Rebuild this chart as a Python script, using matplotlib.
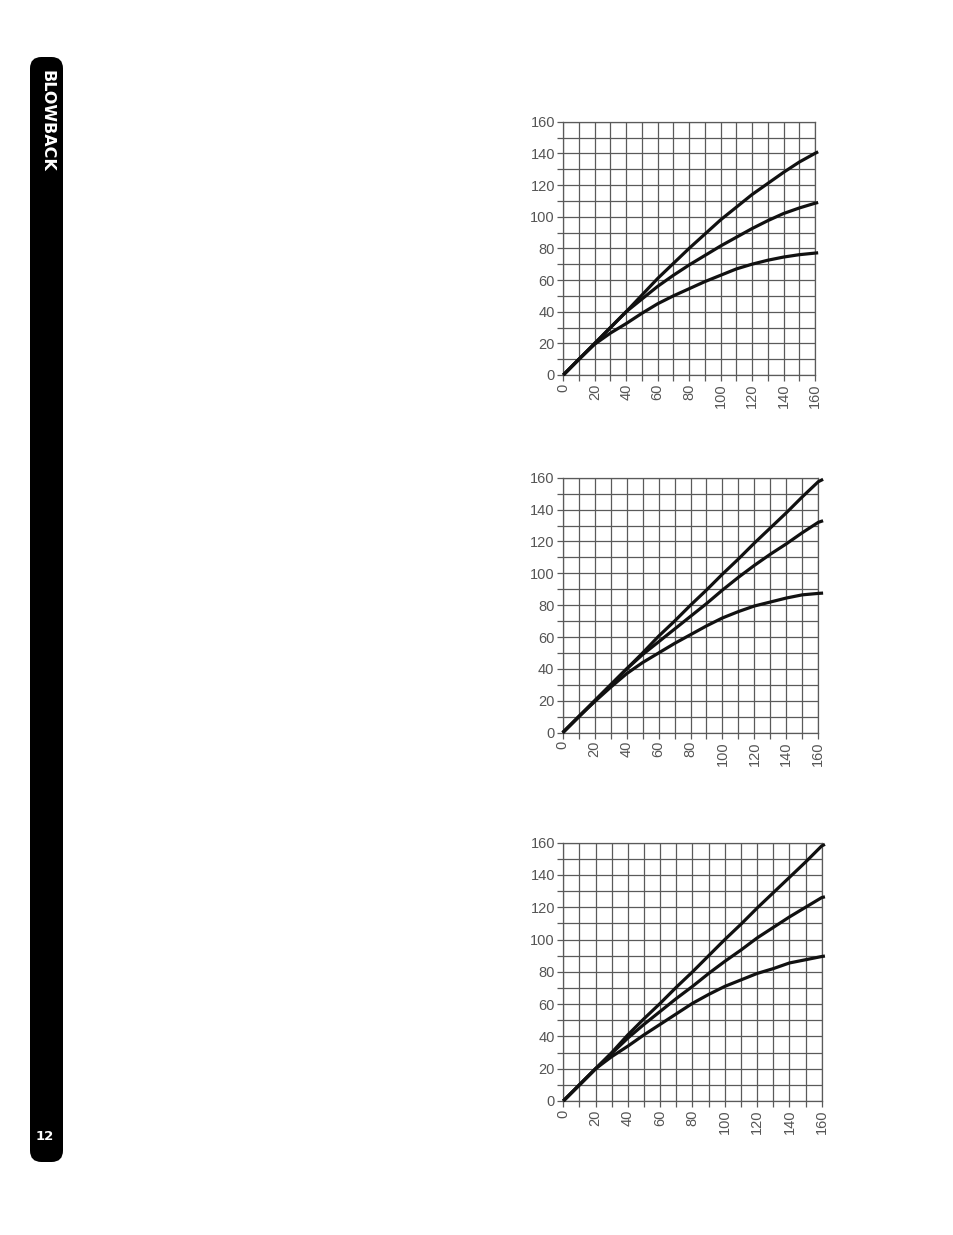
"""Three stacked response charts with a black page-edge tab, matching a scanned manual page."""

import matplotlib
matplotlib.use("Agg")
import matplotlib.pyplot as plt
import matplotlib.ticker as ticker
from matplotlib.patches import FancyBboxPatch

# ---------------------------------------------------------------------------
# Data
# ---------------------------------------------------------------------------

X_TOP = [0, 10, 20, 30, 40, 50, 60, 70, 80, 90, 100, 110, 120, 130, 140, 150, 160, 162]
TOP_UPPER = [0, 10, 20, 30, 40, 50.5, 61, 70.5, 80, 89, 98, 106, 114, 121, 128, 134.5, 140, 141]
TOP_MIDDLE = [0, 10, 20, 30, 40, 48, 56, 63, 69.5, 75.5, 81.5, 87, 92.5, 97.5, 102, 105.5, 108.5, 109]
TOP_LOWER = [0, 10, 19.5, 26.5, 32.5, 39, 45, 50, 54.5, 59, 63, 67, 70, 72.5, 74.5, 76, 77, 77.2]

X_MID = [0, 10, 20, 30, 40, 50, 60, 70, 80, 90, 100, 110, 120, 130, 140, 150, 160, 163]
MID_UPPER = [0, 10, 20, 30, 40, 50, 60.5, 70, 80, 89.5, 99.5, 109, 119, 128.5, 138, 148, 157.5, 159]
MID_MIDDLE = [0, 10, 20, 30, 40, 49, 57, 65, 73, 81, 89.5, 97.5, 105, 112, 118.5, 125.5, 132, 133]
MID_LOWER = [0, 10, 19.5, 28.5, 37, 44, 50, 56, 61.5, 67, 72, 76, 79.5, 82, 84.5, 86.5, 87.4, 87.6]

X_BOT = [0, 10, 20, 30, 40, 50, 60, 70, 80, 90, 100, 110, 120, 130, 140, 150, 160, 162]
BOT_UPPER = [0, 10, 20, 30, 41, 51, 60.5, 70.5, 80, 90, 100, 109.5, 119.5, 129, 138.5, 148, 158, 159]
BOT_MIDDLE = [0, 10, 20, 29.5, 39, 47.5, 55.5, 63.5, 71, 79, 86.5, 93.5, 101, 107.5, 114, 120, 126, 126.5]
BOT_LOWER = [0, 10, 20, 27.5, 34, 41, 47.5, 54, 60.5, 66, 71, 75, 79, 82, 85.5, 87.5, 89.5, 89.8]

TICKS = [0, 20, 40, 60, 80, 100, 120, 140, 160]
TAB_TITLE = "BLOWBACK"
PAGE_NUMBER = "12"

GRID = "#5a5a5a"
LABEL = "#555555"

# ---------------------------------------------------------------------------
# Figure
# ---------------------------------------------------------------------------

fig = plt.figure(figsize=(9.54, 12.35), dpi=100)
fig.patch.set_facecolor("white")

# black tab on the left edge (pixel coords converted to figure fractions)
W, H = 954, 1235
tab = FancyBboxPatch(
    (30 / W, (H - 1162) / H), 33 / W, (1162 - 57) / H,
    boxstyle="round,pad=0,rounding_size=0.012",
    transform=fig.transFigure, facecolor="black", edgecolor="none",
    mutation_aspect=W / H,
)
fig.patches.append(tab)
fig.text(47 / W, 1 - 70 / H, TAB_TITLE, rotation=270, ha="center", va="top",
         color="white", fontsize=11.5, fontweight="bold", family="DejaVu Sans")
fig.text(45 / W, 1 - 1137 / H, PAGE_NUMBER, ha="center", va="center",
         color="white", fontsize=9.5, fontweight="bold", family="DejaVu Sans")

panels = [
    ([563.3 / W, 1 - 375 / H, 251.7 / W, 253.3 / H], X_TOP, [TOP_UPPER, TOP_MIDDLE, TOP_LOWER]),
    ([562.7 / W, 1 - 732.7 / H, 255.6 / W, 255 / H], X_MID, [MID_UPPER, MID_MIDDLE, MID_LOWER]),
    ([563.3 / W, 1 - 1101 / H, 258.4 / W, 258.3 / H], X_BOT, [BOT_UPPER, BOT_MIDDLE, BOT_LOWER]),
]

for rect, xs, curves in panels:
    ax = fig.add_axes(rect)
    ax.set_facecolor("white")
    ax.set_xlim(0, 160)
    ax.set_ylim(0, 160)

    for ys in curves:
        ax.plot(xs, ys, color="#111111", linewidth=2.3, solid_capstyle="butt",
                solid_joinstyle="round", clip_on=False, zorder=4)

    ax.xaxis.set_major_locator(ticker.FixedLocator(TICKS))
    ax.yaxis.set_major_locator(ticker.FixedLocator(TICKS))
    ax.xaxis.set_minor_locator(ticker.MultipleLocator(10))
    ax.yaxis.set_minor_locator(ticker.MultipleLocator(10))
    ax.grid(which="both", color=GRID, linewidth=0.9, zorder=1)
    ax.set_axisbelow(True)

    for spine in ax.spines.values():
        spine.set_color(GRID)
        spine.set_linewidth(0.9)

    ax.tick_params(which="both", direction="out", length=4, width=0.9,
                   color=GRID, labelcolor=LABEL, labelsize=10.5, pad=2)
    ax.tick_params(axis="x", which="major", labelrotation=90)
    for lbl in ax.get_xticklabels() + ax.get_yticklabels():
        lbl.set_family("Liberation Sans")

fig.savefig("out.png", dpi=100, facecolor=fig.get_facecolor())
